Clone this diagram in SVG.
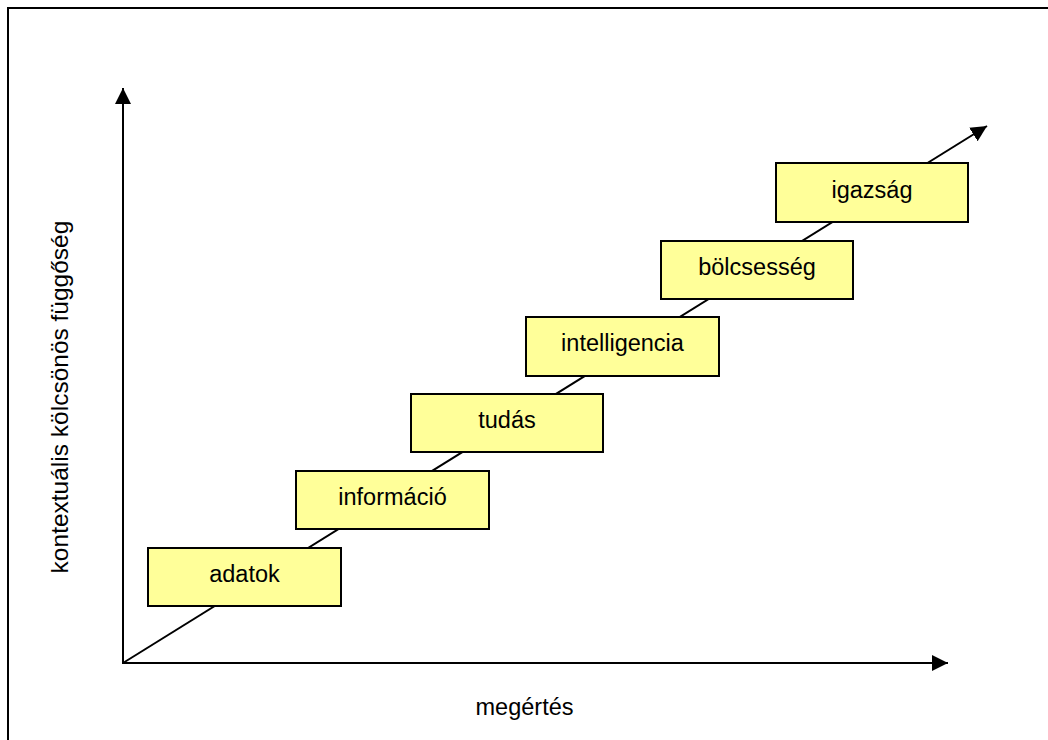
<svg xmlns="http://www.w3.org/2000/svg" width="1048" height="740" viewBox="0 0 1048 740">
<style>
.box{fill:#FFFF99;stroke:#000;stroke-width:2}
.lbl{font-family:"Liberation Sans",Arial,sans-serif;font-size:23.5px;fill:#000;text-anchor:middle}
.ax{stroke:#000;stroke-width:2;fill:none}
</style>
<defs>
<marker id="ah" viewBox="0 0 16 16" refX="16" refY="8" markerWidth="16" markerHeight="16" markerUnits="userSpaceOnUse" orient="auto">
<path d="M0,0 L16,8 L0,16 Z" fill="#000"/>
</marker>
</defs>
<rect width="1048" height="740" fill="#fff"/>
<path d="M8,740 L8,8 L1048,8" fill="none" stroke="#000" stroke-width="2"/>
<g id="connectors">
<line class="ax" x1="123" y1="663" x2="123" y2="88" marker-end="url(#ah)"/>
<line class="ax" x1="122" y1="663" x2="948" y2="663" marker-end="url(#ah)"/>
<line class="ax" x1="123" y1="663" x2="987" y2="126" marker-end="url(#ah)"/>
</g>
<g id="adatok"><rect class="box" x="148" y="548" width="193" height="58"/><text class="lbl" x="244.5" y="582">adatok</text></g>
<g id="informacio"><rect class="box" x="296" y="471" width="193" height="58"/><text class="lbl" x="392.5" y="505">információ</text></g>
<g id="tudas"><rect class="box" x="411" y="394" width="192" height="58"/><text class="lbl" x="507" y="428">tudás</text></g>
<g id="intelligencia"><rect class="box" x="526" y="317" width="193" height="59"/><text class="lbl" x="622.5" y="351">intelligencia</text></g>
<g id="bolcsesseg"><rect class="box" x="661" y="241" width="192" height="58"/><text class="lbl" x="757" y="275">bölcsesség</text></g>
<g id="igazsag"><rect class="box" x="776" y="163" width="192" height="59"/><text class="lbl" x="872" y="198">igazság</text></g>
<text class="lbl" x="524.5" y="715">megértés</text>
<text class="lbl" style="font-size:24.5px" transform="translate(68,397) rotate(-90)">kontextuális kölcsönös függőség</text>
</svg>
